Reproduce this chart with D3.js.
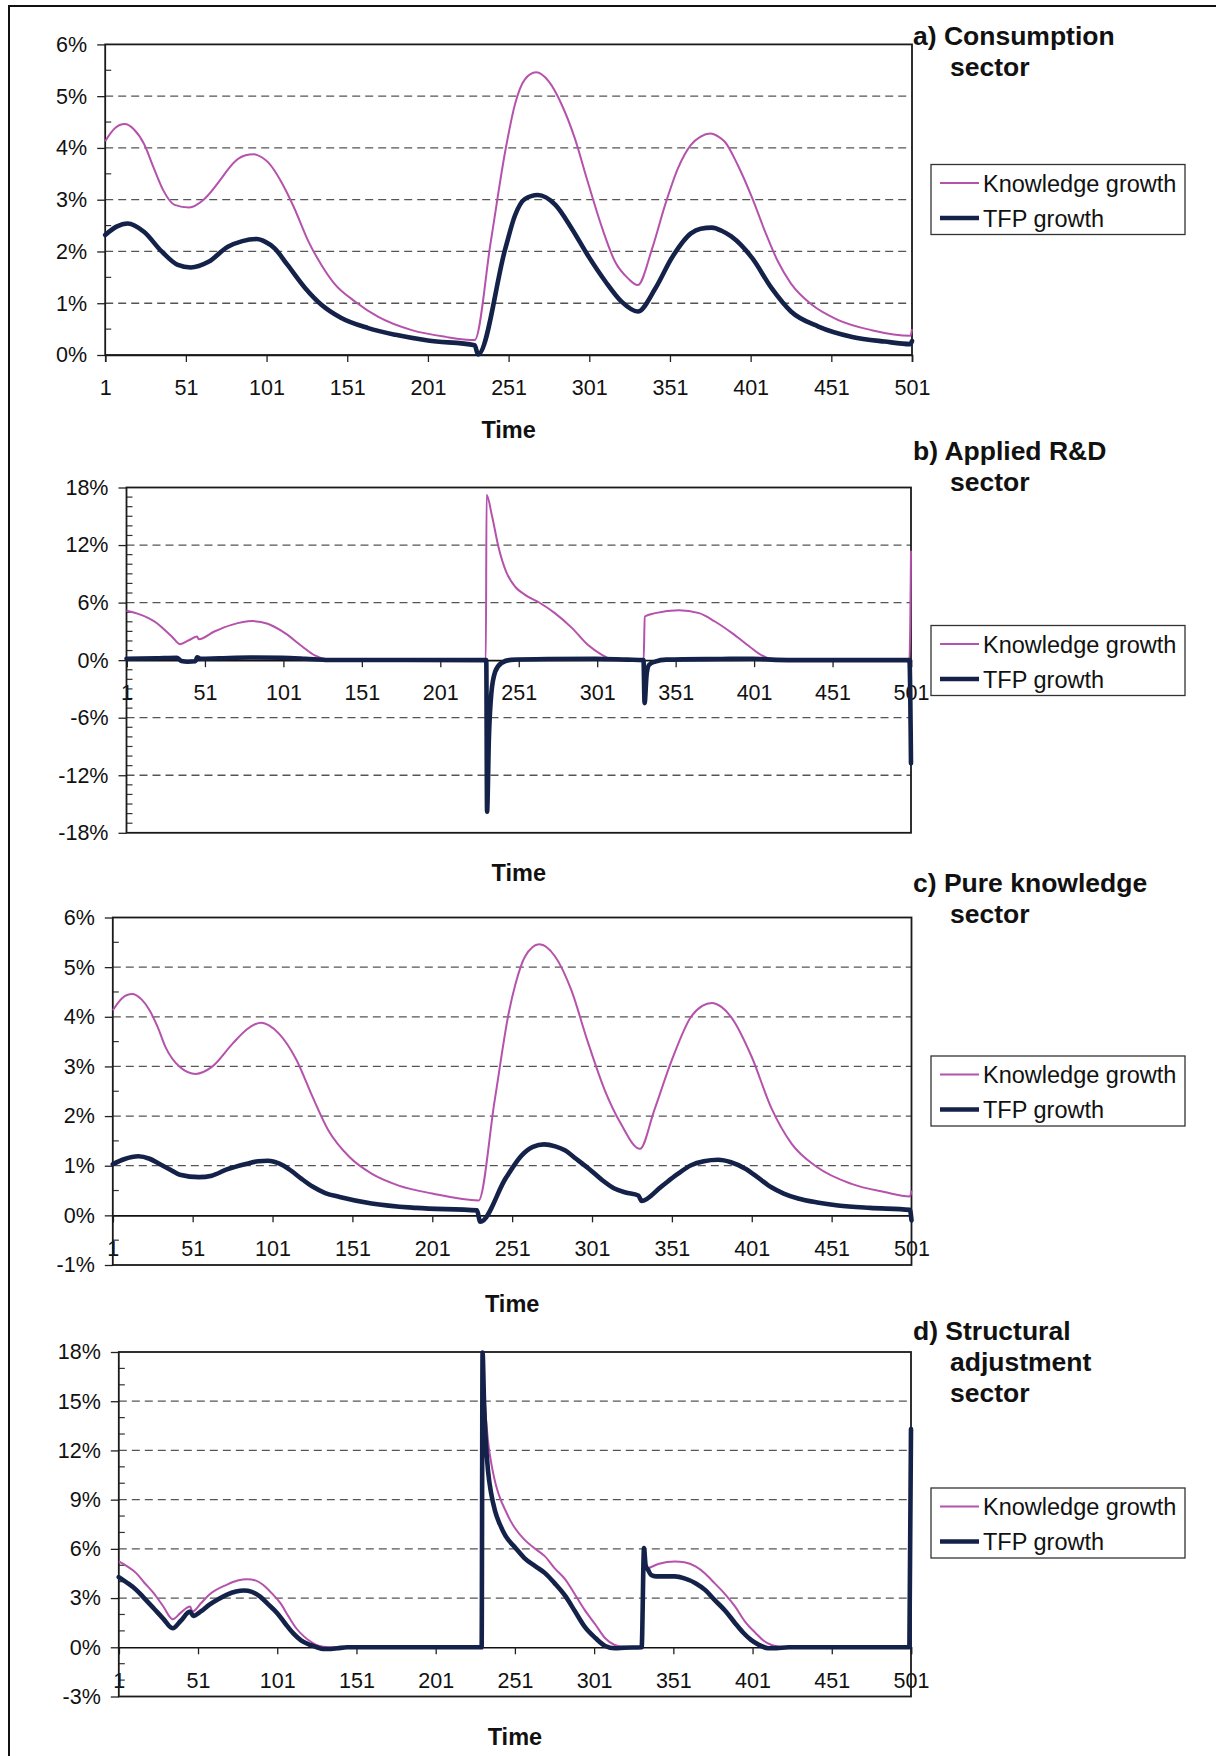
<!DOCTYPE html>
<html><head><meta charset="utf-8">
<script src="https://cdn.jsdelivr.net/npm/d3@7"></script>
<style>
body{margin:0;background:#fff}
svg{display:block}
text{font-family:"Liberation Sans",Arial,Helvetica,sans-serif;fill:#111}
</style>
</head><body>
<svg id="chart" width="1216" height="1756"></svg>
<script>
// ---------------- data ----------------
const timeTicks = [1,51,101,151,201,251,301,351,401,451,501];
const seriesNames = ["Knowledge growth","TFP growth"];
const axisTitle = "Time";

// a) Consumption sector  ([time, %])
const aKnow = [[1,4.13],[7,4.38],[13,4.46],[19,4.35],[25,4.08],[31,3.62],[37,3.18],[44,2.9],[53,2.85],[62,3.0],[73,3.41],[78,3.62],[83,3.78],[88,3.86],[93,3.88],[98,3.82],[102,3.72],[106,3.56],[110,3.35],[118,2.85],[127,2.19],[135,1.74],[143,1.38],[156,1.03],[170,0.74],[191,0.48],[212,0.35],[230,0.29],[240,2.2],[249,3.95],[255,4.85],[261,5.32],[268,5.46],[276,5.28],[284,4.83],[292,4.19],[300,3.35],[309,2.45],[317,1.8],[325,1.48],[331,1.35],[340,2.06],[348,2.9],[356,3.61],[364,4.06],[370,4.22],[376,4.28],[381,4.22],[385,4.12],[393,3.67],[402,3.03],[410,2.38],[418,1.8],[426,1.38],[439,0.97],[455,0.68],[476,0.48],[500,0.37],[501,0.5]];
const aTFP = [[1,2.32],[8,2.48],[15,2.54],[25,2.38],[36,2.0],[46,1.74],[54,1.69],[65,1.8],[77,2.09],[86,2.2],[95,2.24],[100,2.19],[106,2.06],[114,1.74],[125,1.29],[135,0.97],[147,0.72],[164,0.52],[181,0.39],[201,0.28],[230,0.19],[232,0.01],[249,2.06],[255,2.7],[261,3.01],[269,3.09],[280,2.9],[290,2.45],[300,1.93],[311,1.42],[321,1.03],[331,0.84],[342,1.29],[352,1.87],[364,2.35],[370,2.44],[377,2.46],[383,2.4],[389,2.29],[402,1.87],[414,1.29],[426,0.84],[443,0.55],[464,0.35],[484,0.26],[500,0.21],[501,0.27]];

// b) Applied R&D sector
const bKnow = [[1,5.14],[8,4.85],[15,4.38],[20,3.9],[25,3.2],[30,2.45],[35,1.67],[41,2.1],[46,2.47],[47,2.19],[57,2.99],[68,3.68],[81,4.07],[91,3.79],[102,2.82],[113,1.43],[121,0.49],[128,0.1],[135,0],[230,0],[230.5,17.24],[234,15.0],[238,11.85],[243,9.2],[249,7.6],[255,6.81],[264,6.01],[274,4.9],[285,3.34],[295,1.6],[304,0.56],[310,0.1],[316,0],[330.6,0],[331.3,4.55],[338,4.9],[353,5.21],[366,4.9],[376,4.03],[387,2.82],[398,1.43],[406,0.49],[412,0.1],[418,0],[500,0],[501,11.4]];
const bTFP = [[1,0.15],[20,0.2],[33,0.25],[36,-0.1],[40,-0.17],[45,-0.12],[46,0.3],[48,0.15],[60,0.2],[80,0.28],[100,0.25],[115,0.15],[130,0.02],[230.3,0],[230.8,-15.8],[232,-8],[233.5,-3.5],[236,-1.2],[240,-0.3],[246,0.03],[270,0.12],[300,0.15],[320,0.05],[330.5,0],[331.2,-4.48],[332.5,-1.5],[334,-0.5],[338,-0.15],[345,0.05],[380,0.12],[400,0.15],[415,0.03],[430,0],[500,0],[501,-10.74]];

// c) Pure knowledge sector
const cKnow = [[1,4.13],[7,4.38],[13,4.46],[19,4.35],[24,4.13],[29,3.8],[34,3.39],[43,2.99],[53,2.85],[63,2.99],[76,3.46],[85,3.75],[90,3.85],[94,3.88],[99,3.82],[105,3.66],[116,3.13],[126,2.39],[136,1.71],[149,1.18],[163,0.84],[180,0.6],[201,0.44],[230,0.3],[240,2.3],[249,4.1],[253,4.65],[259,5.21],[268,5.46],[278,5.21],[288,4.54],[298,3.53],[309,2.52],[319,1.85],[331,1.34],[340,2.12],[351,3.13],[363,4.0],[370,4.22],[376,4.28],[382,4.2],[388,4.0],[401,3.19],[413,2.18],[426,1.44],[442,0.97],[463,0.64],[484,0.47],[500,0.38],[501,0.5]];
const cTFP = [[1,1.03],[8,1.13],[17,1.19],[24,1.14],[30,1.04],[37,0.92],[43,0.82],[55,0.77],[63,0.8],[72,0.92],[85,1.04],[92,1.09],[98,1.1],[102,1.08],[108,1.0],[113,0.89],[119,0.74],[126,0.58],[134,0.45],[143,0.37],[163,0.24],[191,0.15],[229,0.1],[231,-0.13],[247,0.75],[257,1.21],[264,1.38],[271,1.43],[278,1.39],[284,1.31],[291,1.14],[299,0.94],[307,0.72],[315,0.54],[322,0.46],[330,0.4],[332,0.29],[344,0.57],[354,0.82],[363,1.01],[371,1.09],[380,1.12],[388,1.07],[397,0.94],[405,0.76],[413,0.57],[421,0.44],[430,0.34],[442,0.26],[455,0.2],[475,0.15],[500,0.11],[501,-0.1]];

// d) Structural adjustment sector
const dKnow = [[1,5.23],[6,4.95],[12,4.52],[17,3.95],[23,3.3],[29,2.5],[35,1.71],[40,2.1],[46,2.48],[47.5,2.18],[53,2.7],[58,3.2],[69,3.81],[76,4.07],[82,4.15],[88,4.05],[92,3.81],[97,3.35],[103,2.69],[108,1.9],[113,1.16],[118,0.65],[122,0.35],[126,0.13],[130,0.04],[136,0],[230,0],[230.6,17.96],[232,15],[234,12.6],[236.5,11.0],[239,9.9],[242,9.0],[245,8.35],[248,7.75],[251,7.27],[257,6.56],[264,5.99],[270,5.54],[276,4.83],[283,4.11],[289,3.2],[295,2.28],[302,1.36],[308,0.55],[314,0.14],[320,0.03],[331,0],[331.6,4.7],[334,4.77],[342,5.09],[352,5.23],[358,5.18],[365,4.93],[371,4.5],[377,3.91],[384,3.2],[390,2.48],[396,1.6],[403,0.86],[408,0.4],[413,0.14],[418,0.03],[422,0],[500,0],[501,13.28]];
const dTFP = [[1,4.28],[6,3.95],[12,3.5],[17,3.0],[23,2.38],[29,1.75],[35,1.16],[40,1.6],[46,2.18],[48,1.91],[53,2.2],[58,2.59],[64,2.95],[69,3.2],[75,3.4],[80,3.46],[85,3.38],[90,3.1],[95,2.65],[101,2.08],[106,1.45],[111,0.86],[116,0.42],[122,0.14],[126,0.0],[130,-0.1],[135,-0.1],[139,-0.06],[145,0],[230,0],[230.6,17.96],[231.5,15],[232.5,12.8],[234,10.8],[236,9.4],[238.5,8.3],[241.5,7.5],[245,6.8],[251,6.1],[257,5.44],[264,4.93],[270,4.52],[276,3.91],[283,3.1],[289,2.18],[295,1.26],[302,0.55],[308,0.08],[314,-0.06],[320,-0.03],[331,0],[332.5,6.05],[333.5,5.0],[335,4.73],[337,4.4],[340,4.32],[352,4.32],[358,4.2],[365,3.91],[371,3.5],[377,2.89],[384,2.2],[390,1.47],[395,0.9],[400,0.45],[405,0.15],[411,-0.06],[416,-0.05],[424,0],[500,0],[501,13.3]];

// y tick values per panel
const aYTicks = [0,1,2,3,4,5,6];
const bYTicks = [-18,-12,-6,0,6,12,18];
const cYTicks = [-1,0,1,2,3,4,5,6];
const dYTicks = [-3,0,3,6,9,12,15,18];

const titles = [["a) Consumption","sector"],["b) Applied R&D","sector"],["c) Pure knowledge","sector"],["d) Structural","adjustment","sector"]];

// ---------------- layout ----------------
const panels = [
  {know:aKnow, tfp:aTFP, yTicks:aYTicks, minor:0.5, title:titles[0],
   L:105.2, R:912, T:44.4, B:355, titleY:45, legY:164.5, timeY:438},
  {know:bKnow, tfp:bTFP, yTicks:bYTicks, minor:1, title:titles[1],
   L:126.5, R:911, T:487.5, B:832.8, titleY:460, legY:625.5, timeY:881},
  {know:cKnow, tfp:cTFP, yTicks:cYTicks, minor:0.5, title:titles[2],
   L:112.8, R:911.5, T:917.5, B:1265, titleY:892, legY:1056, timeY:1312},
  {know:dKnow, tfp:dTFP, yTicks:dYTicks, minor:1, title:titles[3],
   L:118.8, R:911, T:1352, B:1696.5, titleY:1340, legY:1488, timeY:1745}
];

const KCOL = "#B552AB", TCOL = "#14224A";
const TICKFS = 21.5, LEGFS = 23.5, TITLEFS = 26.5, TIMEFS = 23.5;
const svg = d3.select("#chart");

// outer frame (cropped at right/bottom)
svg.append("path").attr("d","M9,1760 L9,6 L1220,6").attr("fill","none").attr("stroke","#111").attr("stroke-width",2);

panels.forEach((p,i)=>{
  const ymin = d3.min(p.yTicks), ymax = d3.max(p.yTicks);
  const x = d3.scaleLinear().domain([1,501]).range([p.L,p.R]);
  const y = d3.scaleLinear().domain([ymin,ymax]).range([p.B,p.T]);
  const g = svg.append("g");

  // gridlines
  p.yTicks.filter(v=>v!==0 && v!==ymin && v!==ymax).forEach(v=>{
    g.append("line").attr("x1",p.L).attr("x2",p.R).attr("y1",y(v)).attr("y2",y(v))
      .attr("stroke","#555").attr("stroke-width",1.3).attr("stroke-dasharray","8,5");
  });

  // minor ticks (inside)
  const minors = d3.range(ymin, ymax+1e-9, p.minor).filter(v=>!p.yTicks.some(t=>Math.abs(t-v)<1e-9));
  minors.forEach(v=>{
    g.append("line").attr("x1",p.L).attr("x2",p.L+6).attr("y1",y(v)).attr("y2",y(v))
      .attr("stroke","#333").attr("stroke-width",1.2);
  });

  // y axis (major ticks outside)
  const yAxis = d3.axisLeft(y).tickValues(p.yTicks).tickSize(8).tickPadding(10)
     .tickFormat(d=>d+"%");
  const ya = g.append("g").attr("transform",`translate(${p.L},0)`).call(yAxis);
  ya.select(".domain").remove();
  ya.selectAll("line").attr("stroke","#222").attr("stroke-width",1.3);
  ya.selectAll("text").attr("font-size",TICKFS).attr("fill","#111")
    .attr("font-family",'"Liberation Sans",Arial,sans-serif');

  // x axis at zero
  const xAxis = d3.axisBottom(x).tickValues(timeTicks).tickSize(7).tickPadding(18).tickFormat(d3.format("d"));
  const xa = g.append("g").attr("transform",`translate(0,${y(0)})`).call(xAxis);
  xa.select(".domain").attr("stroke","#111").attr("stroke-width",1.6);
  xa.selectAll("line").attr("stroke","#222").attr("stroke-width",1.3);
  xa.selectAll("text").attr("font-size",TICKFS).attr("fill","#111")
    .attr("font-family",'"Liberation Sans",Arial,sans-serif');

  // plot frame
  g.append("rect").attr("x",p.L).attr("y",p.T).attr("width",p.R-p.L).attr("height",p.B-p.T)
    .attr("fill","none").attr("stroke","#1a1a1a").attr("stroke-width",1.8);

  // series
  const line = d3.line().x(d=>x(d[0])).y(d=>y(d[1])).curve(d3.curveMonotoneX);
  g.append("path").datum(p.know).attr("d",line).attr("fill","none")
    .attr("stroke",KCOL).attr("stroke-width",2).attr("stroke-linejoin","round");
  g.append("path").datum(p.tfp).attr("d",line).attr("fill","none")
    .attr("stroke",TCOL).attr("stroke-width",4.6).attr("stroke-linejoin","round").attr("stroke-linecap","round");

  // axis title
  g.append("text").attr("x",(p.L+p.R)/2).attr("y",p.timeY).attr("text-anchor","middle")
    .attr("font-size",TIMEFS).attr("font-weight","bold").text(axisTitle);

  // panel title
  p.title.forEach((t,k)=>{
    g.append("text").attr("x",k===0?913:950).attr("y",p.titleY+k*31)
      .attr("font-size",TITLEFS).attr("font-weight","bold").text(t);
  });

  // legend
  const lg = g.append("g").attr("transform",`translate(931,${p.legY})`);
  lg.append("rect").attr("width",254).attr("height",70).attr("fill","#fff")
    .attr("stroke","#333").attr("stroke-width",1.3);
  [[KCOL,2,seriesNames[0],18.5],[TCOL,4.6,seriesNames[1],53.5]].forEach(([c,w,n,ly])=>{
    lg.append("line").attr("x1",9).attr("x2",48).attr("y1",ly).attr("y2",ly)
      .attr("stroke",c).attr("stroke-width",w);
    lg.append("text").attr("x",52).attr("y",ly+8.5).attr("font-size",LEGFS).text(n);
  });
});
</script>
</body></html>
